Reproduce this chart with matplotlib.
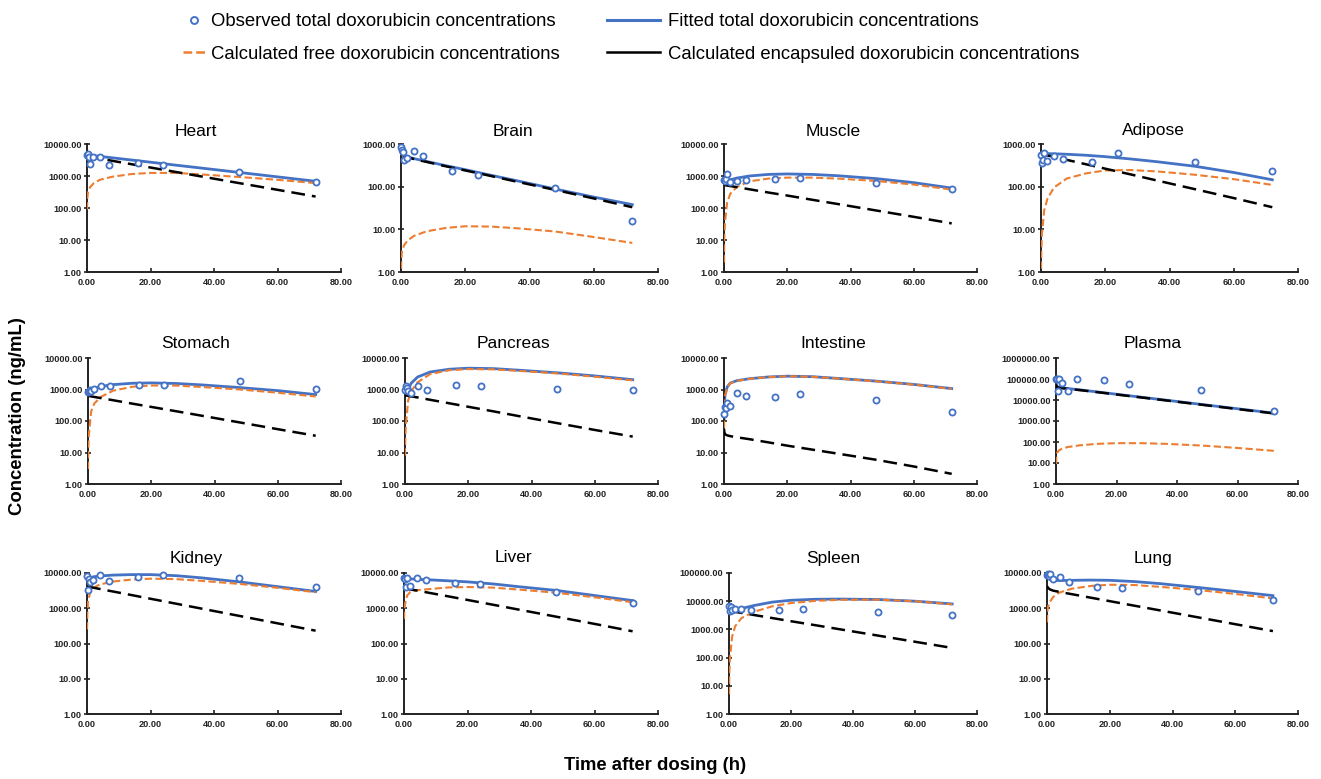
import matplotlib
matplotlib.use("Agg")
import matplotlib.pyplot as plt
from matplotlib.lines import Line2D
from matplotlib.ticker import FixedLocator, FormatStrFormatter, NullLocator

plt.rcParams['font.family'] = ['Liberation Sans', 'DejaVu Sans']

# time grids (h)
model_t = [0.02, 0.1, 0.3, 1, 2, 4, 8, 14, 20, 28, 36, 48, 60, 72]
obs_t = [0.083, 0.25, 0.5, 1, 2, 4, 7, 16, 24, 48, 72]

tissues = ['Heart', 'Brain', 'Muscle', 'Adipose',
           'Stomach', 'Pancreas', 'Intestine', 'Plasma',
           'Kidney', 'Liver', 'Spleen', 'Lung']
y_top = [1e4, 1e3, 1e4, 1e3, 1e4, 1e4, 1e4, 1e6, 1e4, 1e4, 1e5, 1e4]

# observed total doxorubicin (ng/mL)
heart_obs = [4600, 4900, 3800, 2450, 3900, 3900, 2250, 2500, 2250, 1300, 640]
brain_obs = [830, 740, 650, 430, 470, 670, 510, 235, 186, 92, 15.5]
muscle_obs = [750, 680, 820, 1150, 670, 700, 760, 790, 890, 625, 385]
adipose_obs = [560, 360, 430, 600, 390, 530, 440, 377, 614, 370, 235]
stomach_obs = [820, 900, 950, 880, 1050, 1320, 1300, 1420, 1350, 1820, 1040]
pancreas_obs = [1000, 1250, 1100, 900, 780, 1300, 930, 1370, 1270, 1070, 1000]
intestine_obs = [170, 280, 250, 370, 305, 750, 630, 590, 710, 460, 187]
plasma_obs = [95000, 100000, 28000, 98000, 62000, 28000, 100000, 89000, 57000, 30000, 3100]
kidney_obs = [8000, 3300, 6900, 5500, 6200, 8600, 5900, 7750, 8600, 7400, 4100]
liver_obs = [7300, 6800, 3900, 7000, 4300, 7400, 6350, 5300, 4800, 2900, 1450]
spleen_obs = [6500, 4500, 6000, 5000, 5200, 5300, 4900, 4700, 5400, 4000, 3200]
lung_obs = [8500, 9500, 8000, 9300, 6800, 7800, 5500, 4100, 3850, 3150, 1700]

# fitted total
heart_total = [4600, 4580, 4550, 4450, 4340, 4110, 3700, 3160, 2700, 2180, 1770, 1290, 940, 684]
brain_total = [800, 720, 620, 540, 500, 455, 390, 310, 250, 185, 138, 88, 57, 38]
muscle_total = [800, 720, 690, 700, 760, 860, 1000, 1120, 1160, 1120, 1020, 830, 620, 420]
adipose_total = [560, 570, 580, 590, 595, 590, 575, 545, 505, 445, 385, 300, 215, 145]
stomach_total = [850, 880, 920, 1000, 1100, 1250, 1430, 1580, 1620, 1550, 1400, 1150, 920, 690]
pancreas_total = [950, 900, 880, 1050, 1600, 2500, 3600, 4400, 4750, 4600, 4100, 3400, 2700, 2050]
intestine_total = [120, 300, 650, 1200, 1600, 1900, 2200, 2500, 2650, 2550, 2250, 1850, 1450, 1070]
plasma_total = [60000, 50000, 44000, 40000, 38000, 35000, 30300, 23900, 18800, 13700, 9960, 6170, 3830, 2380]
kidney_total = [3500, 4500, 6000, 7200, 7800, 8200, 8700, 9000, 9000, 8400, 7300, 5600, 4100, 3000]
liver_total = [7500, 7300, 7100, 6900, 6800, 6650, 6400, 6000, 5600, 4900, 4100, 3200, 2300, 1650]
spleen_total = [6500, 6000, 5500, 5000, 5000, 5500, 7000, 9300, 10800, 11700, 11900, 11500, 10000, 8000]
lung_total = [8500, 8000, 7200, 6500, 6200, 6100, 6200, 6300, 6200, 5700, 5000, 3900, 3000, 2280]

# calculated free
heart_free = [90, 200, 320, 450, 580, 760, 950, 1150, 1250, 1250, 1120, 930, 760, 600]
brain_free = [1.2, 2.0, 3.0, 4.3, 5.4, 7.0, 9.0, 10.8, 11.8, 11.6, 10.6, 8.9, 6.6, 4.8]
muscle_free = [2, 12, 35, 150, 280, 450, 680, 830, 890, 890, 830, 700, 540, 375]
adipose_free = [1.2, 3, 8, 28, 52, 95, 155, 205, 240, 245, 228, 190, 150, 110]
stomach_free = [3, 15, 40, 200, 360, 580, 920, 1220, 1340, 1330, 1200, 1000, 790, 600]
pancreas_free = [8, 30, 80, 450, 900, 1700, 3100, 4100, 4450, 4350, 3900, 3250, 2550, 1950]
intestine_free = [60, 260, 620, 1180, 1580, 1880, 2180, 2480, 2630, 2530, 2230, 1830, 1430, 1050]
plasma_free = [9, 20, 30, 40, 48, 58, 70, 82, 88, 88, 82, 68, 52, 38]
kidney_free = [250, 700, 1500, 2900, 3800, 4700, 5700, 6500, 6900, 6700, 6000, 4900, 3800, 2850]
liver_free = [500, 900, 1300, 2300, 2900, 3250, 3500, 3900, 4000, 3850, 3400, 2750, 2050, 1480]
spleen_free = [5, 25, 90, 550, 1300, 2500, 4200, 6600, 8600, 10300, 11200, 11300, 10000, 7700]
lung_free = [400, 800, 1100, 1550, 2100, 2800, 3600, 4300, 4650, 4550, 4050, 3300, 2550, 1900]

# calculated encapsulated
heart_enc = [4100, 4090, 4070, 4030, 3785, 3490, 2976, 2340, 1840, 1335, 968, 598, 370, 228]
brain_enc = [560, 555, 550, 530, 490, 445, 380, 300, 240, 178, 131, 84, 53, 33]
muscle_enc = [520, 520, 515, 505, 485, 450, 385, 305, 245, 180, 133, 84, 53, 33]
adipose_enc = [580, 578, 573, 560, 538, 500, 425, 335, 264, 193, 140, 87, 54, 33]
stomach_enc = [630, 628, 622, 605, 580, 535, 455, 356, 280, 203, 147, 90, 55, 34]
pancreas_enc = [660, 657, 650, 630, 600, 560, 470, 365, 283, 202, 143, 86, 52, 32]
intestine_enc = [55, 45, 38, 35, 33, 30.5, 26.5, 21, 16.5, 12.3, 9.2, 5.9, 3.6, 2.1]
plasma_enc = [55000, 48000, 42000, 38000, 36500, 34000, 29500, 23300, 18300, 13300, 9700, 6000, 3700, 2300]
kidney_enc = [4100, 4080, 4050, 3990, 3830, 3530, 3010, 2370, 1860, 1350, 980, 606, 374, 231]
liver_enc = [3650, 3640, 3620, 3560, 3420, 3190, 2730, 2170, 1720, 1260, 920, 575, 360, 222]
spleen_enc = [4500, 4480, 4440, 4370, 4190, 3850, 3250, 2520, 1950, 1400, 1000, 605, 365, 220]
lung_enc = [4300, 4100, 3800, 3400, 3150, 2900, 2500, 1990, 1590, 1175, 870, 555, 353, 225]

obs_all = [heart_obs, brain_obs, muscle_obs, adipose_obs, stomach_obs, pancreas_obs,
           intestine_obs, plasma_obs, kidney_obs, liver_obs, spleen_obs, lung_obs]
total_all = [heart_total, brain_total, muscle_total, adipose_total, stomach_total, pancreas_total,
             intestine_total, plasma_total, kidney_total, liver_total, spleen_total, lung_total]
free_all = [heart_free, brain_free, muscle_free, adipose_free, stomach_free, pancreas_free,
            intestine_free, plasma_free, kidney_free, liver_free, spleen_free, lung_free]
enc_all = [heart_enc, brain_enc, muscle_enc, adipose_enc, stomach_enc, pancreas_enc,
           intestine_enc, plasma_enc, kidney_enc, liver_enc, spleen_enc, lung_enc]

BLUE = '#4472C4'
ORANGE = '#ED7D31'

W, H = 1321, 779
fig = plt.figure(figsize=(W / 100, H / 100), dpi=100)

# panel boxes in pixels: left, right, top, bottom
lefts = [87, 401, 724, 1041, 88, 405, 724, 1056, 87, 404, 729, 1047]
rights = [341, 658, 977, 1298]
rows = [(144, 272), (358, 484), (573, 714)]
title_x = [196, 513, 833, 1153]
title_y = [131, 344, 558]


def px_box(l, r, t, b):
    return [l / W, 1 - b / H, (r - l) / W, (b - t) / H]


for i, name in enumerate(tissues):
    row, col = divmod(i, 4)
    top, bottom = rows[row]
    ax = fig.add_axes(px_box(lefts[i], rights[col], top, bottom))

    ax.plot(model_t, total_all[i], color=BLUE, lw=2.0, zorder=2)
    ax.plot(model_t, free_all[i], color=ORANGE, lw=1.5, dashes=(3.5, 1.6), zorder=3)
    ax.plot(model_t, enc_all[i], color='black', lw=1.8, dashes=(5.5, 2.8), zorder=4)
    ax.plot(obs_t, obs_all[i], ls='none', marker='o', ms=4.4, mfc='white',
            mec=BLUE, mew=1.3, zorder=5, clip_on=False)

    ax.set_yscale('log')
    ax.set_ylim(1, y_top[i])
    ax.set_xlim(0, 80)
    ticks = [10 ** k for k in range(0, len(str(int(y_top[i]))))]
    ax.yaxis.set_major_locator(FixedLocator(ticks))
    ax.yaxis.set_minor_locator(NullLocator())
    ax.yaxis.set_major_formatter(FormatStrFormatter('%.2f'))
    ax.xaxis.set_major_locator(FixedLocator([0, 20, 40, 60, 80]))
    ax.xaxis.set_major_formatter(FormatStrFormatter('%.2f'))

    for s in ['top', 'right']:
        ax.spines[s].set_visible(False)
    for s in ['left', 'bottom']:
        ax.spines[s].set_linewidth(1.4)
        ax.spines[s].set_color('#222222')
    ax.tick_params(axis='x', direction='in', length=3, width=1.2, pad=4,
                   labelsize=6.6, colors='#222222')
    ax.tick_params(axis='y', direction='inout', length=4, width=1.2, pad=2,
                   labelsize=6.6, colors='#222222')
    for lab in ax.get_xticklabels() + ax.get_yticklabels():
        lab.set_fontweight('bold')
    ax.patch.set_alpha(0)

    fig.text(title_x[col] / W, 1 - title_y[row] / H, name, ha='center', va='center',
             fontsize=12.5)

fig.text(18 / W, 1 - 416 / H, 'Concentration (ng/mL)', rotation=90, ha='center',
         va='center', fontsize=13.3, fontweight='bold')
fig.text(655 / W, 1 - 766 / H, 'Time after dosing (h)', ha='center', va='center',
         fontsize=13.3, fontweight='bold')

# legend in two columns
h_obs = Line2D([], [], ls='none', marker='o', ms=5, mfc='white', mec=BLUE, mew=1.4)
h_free = Line2D([], [], color=ORANGE, lw=1.8, dashes=(3.5, 1.6))
h_fit = Line2D([], [], color=BLUE, lw=2.2)
h_enc = Line2D([], [], color='black', lw=1.8)

fig.legend([h_obs, h_free],
           ['Observed total doxorubicin concentrations',
            'Calculated free doxorubicin concentrations'],
           loc='upper left', bbox_to_anchor=(183 / W, 1 - 13 / H), frameon=False,
           fontsize=13.3, handlelength=1.2, handletextpad=0.33, labelspacing=0.85,
           borderaxespad=0, borderpad=0)
fig.legend([h_fit, h_enc],
           ['Fitted total doxorubicin concentrations',
            'Calculated encapsuled doxorubicin concentrations'],
           loc='upper left', bbox_to_anchor=(607 / W, 1 - 13 / H), frameon=False,
           fontsize=13.3, handlelength=2.86, handletextpad=0.43, labelspacing=0.85,
           borderaxespad=0, borderpad=0)

fig.savefig('out.png', dpi=100)
